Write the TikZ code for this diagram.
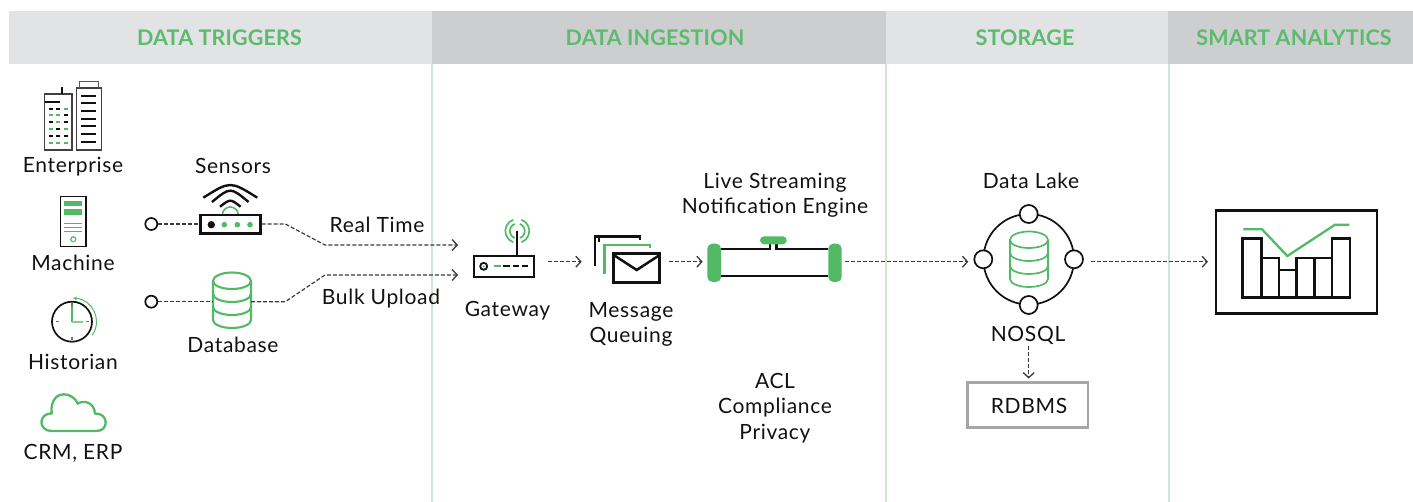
\documentclass[tikz,border=0pt]{standalone}
\usepackage{fontspec}
\setmainfont{Lato}
\usetikzlibrary{arrows.meta}
\definecolor{gr}{HTML}{52B964}
\definecolor{hgr}{HTML}{5CBB6D}
\definecolor{bandA}{HTML}{E2E3E5}
\definecolor{bandB}{HTML}{CDCECF}
\definecolor{sep}{HTML}{CFE6D2}
\definecolor{ink}{HTML}{111111}
\definecolor{dashc}{HTML}{3A3A3A}
\tikzset{
 head/.style={font=\fontsize{21.5}{26}\selectfont\bfseries\addfontfeature{LetterSpace=0.7},text=hgr,inner sep=0pt,anchor=center},
 lbl/.style={font=\fontsize{21}{25.5}\selectfont\addfontfeature{LetterSpace=3.2},text=ink,inner sep=0pt,align=center,anchor=center},
 flow/.style={draw=dashc,line width=1.2pt,dash pattern=on 4pt off 2pt},
 flowa/.style={flow,-{Straight Barb[length=5pt,width=11pt,line width=1.3pt]}},
 blk/.style={draw=ink,line width=2.5pt},
 grn/.style={draw=gr,line width=2.3pt},
 port/.style={circle,draw=ink,line width=1.7pt,fill=white,minimum size=12pt,inner sep=0pt},
 sat/.style={circle,draw=ink,line width=1.7pt,fill=white,minimum size=18pt,inner sep=0pt},
 boxn/.style={rectangle,draw=ink,line width=2.5pt,fill=white,inner sep=0pt},
}
\newcommand{\dbicon}[3]{% cx, top of sides, line width
 \begin{scope}[shift={(#1,#2)}]
  \draw[draw=gr,line width=#3pt,fill=white] (-19,0) -- (-19,39) arc[start angle=180,end angle=360,x radius=19pt,y radius=8pt] -- (19,0) arc[start angle=0,end angle=180,x radius=19pt,y radius=8.5pt] -- cycle;
  \draw[draw=gr,line width=#3pt] (-19,0) arc[start angle=180,end angle=360,x radius=19pt,y radius=8pt];
  \draw[draw=gr,line width=#3pt] (-19,13) arc[start angle=180,end angle=360,x radius=19pt,y radius=8pt];
  \draw[draw=gr,line width=#3pt] (-19,26) arc[start angle=180,end angle=360,x radius=19pt,y radius=8pt];
 \end{scope}}
\begin{document}
\begin{tikzpicture}[x=1pt,y=-1pt]
\useasboundingbox (0,0) rectangle (1413,502);
% bands
\fill[bandA] (9,11) rectangle (432,64);
\fill[bandB] (432,11) rectangle (886,64);
\fill[bandA] (886,11) rectangle (1168,64);
\fill[bandB] (1168,11) rectangle (1413,64);
\draw[sep,line width=1.1pt] (432,64) -- (432,502);
\draw[sep,line width=1.1pt] (886,64) -- (886,502);
\draw[sep,line width=1.1pt] (1169,64) -- (1169,502);
\node[head] (h1) at (219.5,37.5) {DATA TRIGGERS};
\node[head] (h2) at (655,37.5) {DATA INGESTION};
\node[head] (h3) at (1025,37.5) {STORAGE};
\node[head] (h4) at (1294,37.5) {SMART ANALYTICS};

% Enterprise
\draw[draw=ink!80,line width=1.4pt] (44.7,94) rectangle (72,150);
\draw[blk,line width=1.7pt] (62,87) -- (62,94);
\draw[blk,line width=1.7pt] (44.7,102) -- (60,102);
\draw[draw=ink!80,line width=1.4pt] (76.3,88) rectangle (101.3,150);
\draw[draw=ink!70,line width=1.2pt] (79.7,88) -- (79.7,81.7) -- (98.3,81.7) -- (98.3,88);
\foreach \yy in {95.7,103.3,111,118.7,126.3,134,141.7}
  \draw[blk,line width=1.7pt] (81.3,\yy) -- (96,\yy);
\foreach \yy/\ca/\cb/\cc in {109/ink/ink/gr,115/gr/gr/ink,122/ink/gr/ink,129/gr/ink/gr,136/ink/ink/ink,142.7/gr/gr/gr}{
  \draw[draw=\ca,line width=1.7pt] (49,\yy) -- (53.3,\yy);
  \draw[draw=\cb,line width=1.7pt] (56.3,\yy) -- (60,\yy);
  \draw[draw=\cc,line width=1.7pt] (64,\yy) -- (68,\yy);
}
\node[lbl] (enterprise) at (73,167) {Enterprise};

% Machine
\draw[draw=ink,line width=1.4pt] (60.3,196.3) rectangle (86,246.7);
\fill[gr] (64.3,201) rectangle (82.3,206);
\fill[gr] (64.3,209.3) rectangle (82.3,215);
\foreach \yy in {223.3,227.3,231.3} \draw[draw=gr,line width=1pt] (64.3,\yy) -- (82.3,\yy);
\draw[draw=gr,line width=1.2pt] (73.3,239.3) circle[radius=2.5pt];
\node[lbl] (machine) at (73,263) {Machine};

% Historian
\draw[draw=ink,line width=1.7pt] (72,321.7) circle[radius=20pt];
\foreach \a/\b/\c/\d in {72/303/72/307,72/337/72/340,56/321.7/58.5/321.7,86/321.7/88.5/321.7}
  \draw[draw=ink!60,line width=1.2pt] (\a,\b) -- (\c,\d);
\draw[draw=gr,line width=1.4pt] (72,306) -- (72,322);
\draw[draw=gr!70,line width=1.4pt] (72,322) -- (83,322);
\draw[draw=gr,line width=1pt,{Stealth[length=4pt,width=4pt]}-] (73,298.3) arc[start angle=90,end angle=-35,radius=23.5pt];
\node[lbl] (historian) at (73,362) {Historian};

% Cloud
\draw[grn] (51.7,431) .. controls (38,431) and (38,413.5) .. (51.7,413.3)
 .. controls (50,400) and (58,394) .. (63.5,394.3)
 .. controls (70,394) and (76,399) .. (77.7,403.5)
 .. controls (84,400) and (94,402) .. (95,413.5)
 .. controls (109,413) and (109,431) .. (96.7,431) -- cycle;
\node[lbl] (crm) at (73,453.5) {CRM, ERP};

% Sensors
\node[lbl] (sensors) at (233,166) {Sensors};
\draw[grn,line width=1.6pt] (238.3,215) arc[start angle=0,end angle=180,radius=8pt];
\draw[blk,line width=2.4pt] (203.3,197.7) .. controls (230.3,180.8) .. (257.3,197.7);
\draw[blk,line width=2.4pt] (212,202) .. controls (230.3,186.9) .. (248.6,202);
\draw[blk,line width=2.4pt] (220,206.7) .. controls (230.3,198.7) .. (240.6,206.7);
\node[boxn,minimum width=59.6pt,minimum height=18.3pt] (router) at (230.5,224.2) {};
\fill[ink] (211.3,224.7) circle[radius=3.7pt];
\foreach \xx in {224.3,237.3,250} \fill[gr] (\xx,224.7) circle[radius=2.8pt];
\node[port] (p1) at (151.3,224) {};

% Database
\dbicon{232}{281}{2.1}
\coordinate (dbL) at (213,301.7);
\coordinate (dbR) at (251,301.7);
\node[port] (p2) at (151.3,301.7) {};
\node[lbl] (database) at (233,345) {Database};

% connectors left
\coordinate (rL) at (router.west |- p1);
\coordinate (rR) at (router.east |- p1);
\coordinate (k1) at (285.3,224);
\coordinate (k2) at (325,245);
\coordinate (g1) at (458,245);
\coordinate (k3) at (285.3,301.7);
\coordinate (k4) at (325,275);
\coordinate (g2) at (458,275);
\draw[flow] (p1) -- (rL);
\draw[flowa] (rR) -- (k1) -- (k2) -- (g1);
\draw[flow] (p2) -- (dbL);
\draw[flowa] (dbR) -- (k3) -- (k4) -- (g2);
\node[lbl] (realtime) at (377,225) {Real Time};
\node[lbl] (bulk) at (381,299) {Bulk Upload};

% Gateway
\draw[draw=ink,line width=1.8pt] (517.3,231) -- (517.3,256);
\foreach \r in {7.5,12}{
 \draw[draw=gr,line width=1.7pt] (517.3,231) ++(110:\r pt) arc[start angle=110,end angle=250,radius=\r pt];
 \draw[draw=gr,line width=1.7pt] (517.3,231) ++(70:\r pt) arc[start angle=70,end angle=-70,radius=\r pt];
}
\node[boxn,line width=1.8pt,minimum width=60pt,minimum height=21pt] (gateway) at (503.7,266.5) {};
\draw[draw=ink,line width=1.8pt] (483.7,266.3) circle[radius=3.5pt];
\fill[gr] (483.7,266.3) circle[radius=1.2pt];
\draw[draw=gr,line width=1.8pt] (494,266.3) -- (501,266.3);
\foreach \a/\b in {503.3/510,512.7/519.3,521.7/528.3} \draw[draw=ink,line width=1.8pt] (\a,266.3) -- (\b,266.3);
\node[lbl] (gatewayt) at (507.5,311) {Gateway};

% Message
\draw[blk] (595,265.7) -- (595,236.7) -- (640,236.7) -- (640,240);
\draw[blk,line width=1.4pt] (599,242) -- (599,236.7);
\draw[grn] (604.5,274) -- (604.5,244.7) -- (650,244.7) -- (650,248.5);
\node[boxn,minimum width=46pt,minimum height=29.4pt] (envelope) at (636.7,268) {};
\draw[blk] (613.7,255) -- (636.7,270) -- (659.7,255);
\node[lbl] (msgt) at (631,324.5) {Message\\Queuing};

% Pipe
\draw[blk] (721,249) -- (770,249) -- (770,244);
\draw[blk] (776.7,244) -- (776.7,249) -- (828.3,249);
\draw[blk] (721,276) -- (828.3,276);
\node[rectangle,rounded corners=5pt,fill=gr,minimum width=13.7pt,minimum height=38.3pt,inner sep=0pt] (capL) at (714.2,262.8) {};
\node[rectangle,rounded corners=5pt,fill=gr,minimum width=13.4pt,minimum height=38.3pt,inner sep=0pt] (capR) at (835,262.8) {};
\fill[gr,rounded corners=4pt] (760,236.3) rectangle (786.7,244.3);
\node[lbl] (live) at (775,195.5) {Live Streaming\\Notification Engine};
\node[lbl] (acl) at (775,408) {ACL\\Compliance\\Privacy};

% Data lake
\node[lbl] (lake) at (1031,181) {Data Lake};
\node[circle,draw=ink,line width=1.7pt,minimum size=90.6pt,inner sep=0pt] (bigc) at (1028.7,259.3) {};
\node[sat] (sT) at (1028.7,214) {};
\node[sat] (sB) at (1028.7,305) {};
\node[sat] (sL) at (983.3,259.3) {};
\node[sat] (sR) at (1074,259.3) {};
\dbicon{1029}{240}{1.7}
\node[lbl] (nosql) at (1028,335.5) {NOSQL};
\node[rectangle,draw=black!35,line width=2.8pt,minimum width=120.7pt,minimum height=45pt,inner sep=0pt] (rdbms) at (1027.7,404.8) {};
\node[lbl] at (1029,406) {RDBMS};

% Chart
\node[rectangle,draw=ink,line width=2.8pt,minimum width=161pt,minimum height=103.4pt,inner sep=0pt] (chart) at (1296.5,262) {};
\foreach \xa/\xb/\yy in {1242.7/1261.3/238.7,1261.3/1279/258,1279/1296.7/270,1296.7/1314.3/258,1314.3/1332/258,1332/1350/238.7}
 \draw[blk] (\xa,297.7) rectangle (\xb,\yy);
\draw[grn] (1243.3,229.3) -- (1262,229.3) -- (1287.3,256) -- (1335,224.7) -- (1349.3,224.7);

% flow arrows
\coordinate (a1) at (548,261.7);
\coordinate (a2) at (581.7,261.7);
\coordinate (a3) at (669.3,261.7);
\coordinate (a4) at (702.7,261.7);
\coordinate (a5) at (845,261.7);
\coordinate (a6) at (968.3,261.7);
\coordinate (a7) at (1091.3,261.7);
\coordinate (a8) at (1208,261.7);
\coordinate (a9) at (1028.7,346);
\coordinate (a10) at (1028.7,378.5);
\draw[flowa] (a1) -- (a2);
\draw[flowa] (a3) -- (a4);
\draw[flowa] (a5) -- (a6);
\draw[flowa] (a7) -- (a8);
\draw[flowa] (a9) -- (a10);
\end{tikzpicture}
\end{document}
